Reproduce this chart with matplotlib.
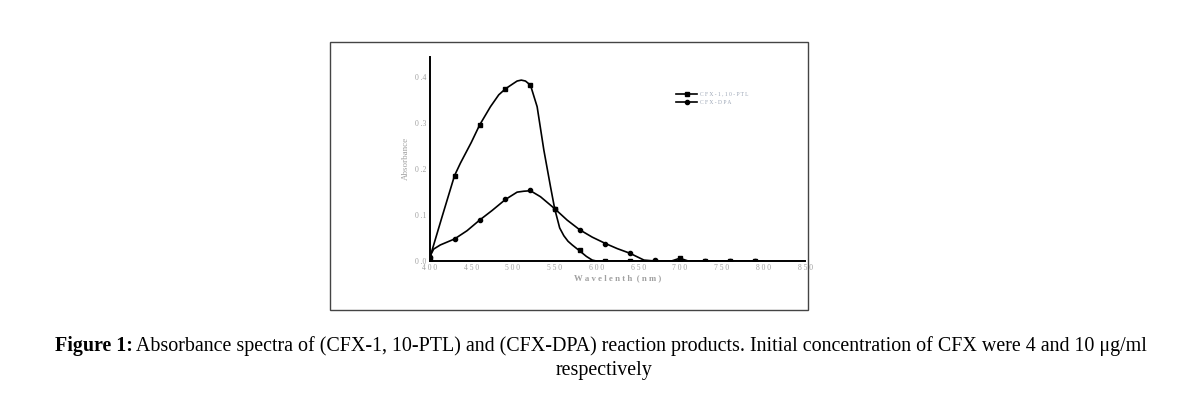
import matplotlib
matplotlib.use("Agg")
import matplotlib.pyplot as plt
from matplotlib.patches import Rectangle

# marker readings (every 30 nm)
wl = [400, 430, 460, 490, 520, 550, 580, 610, 640, 670, 700, 730, 760, 790]
ptl = [0.005, 0.186, 0.296, 0.375, 0.383, 0.114, 0.023, 0, 0, 0, 0.006, 0, 0, 0]
dpa = [0.008, 0.048, 0.089, 0.134, 0.154, 0.114, 0.068, 0.038, 0.017, 0.002, 0, 0, 0, 0]

# smoothed curve traces
ptl_line_x = [400, 405, 415, 430, 437, 450, 460, 473, 483, 491, 500, 505, 510, 515, 521,
              529, 537, 545, 550, 556, 561, 566, 571, 580, 588, 595, 600, 690, 700, 710, 800]
ptl_line_y = [0.005, 0.035, 0.096, 0.186, 0.213, 0.258, 0.296, 0.336, 0.362, 0.375, 0.386,
              0.392, 0.394, 0.392, 0.383, 0.336, 0.242, 0.162, 0.114, 0.072, 0.055, 0.043,
              0.035, 0.022, 0.010, 0.002, 0, 0, 0.006, 0, 0]
dpa_line_x = [400, 405, 413, 430, 445, 460, 475, 491, 505, 513, 521, 533, 550, 565, 580,
              595, 611, 625, 640, 657, 670, 800]
dpa_line_y = [0.008, 0.026, 0.035, 0.048, 0.066, 0.089, 0.110, 0.134, 0.150, 0.152, 0.153,
              0.140, 0.114, 0.089, 0.068, 0.052, 0.038, 0.027, 0.017, 0.002, 0, 0]

xticks = [400, 450, 500, 550, 600, 650, 700, 750, 800, 850]
yticks = [0.0, 0.1, 0.2, 0.3, 0.4]

def spaced(s): return " ".join(s)

GRAY = "#a0a0a0"
SERIF = ["Liberation Serif", "DejaVu Serif"]

fig = plt.figure(figsize=(12.01, 3.94), dpi=100)
fig.patch.set_facecolor("white")

# outer frame around the graphic
fig.patches.append(Rectangle((330/1201, 1-310/394), 478/1201, 268/394, transform=fig.transFigure,
                             fill=False, edgecolor="#444", lw=1.0))

ax = fig.add_axes([429.5/1201, 1-261/394, 375.5/1201, 204.3/394])
ax.plot(ptl_line_x, ptl_line_y, color="black", lw=1.2, zorder=3)
ax.plot(dpa_line_x, dpa_line_y, color="black", lw=1.2, zorder=3)
ax.plot(wl, ptl, ls="none", marker="s", ms=3.4, color="black", zorder=4)
ax.plot(wl, dpa, ls="none", marker="o", ms=3.0, color="black", zorder=4)

ax.set_xlim(400, 850)
ax.set_ylim(0, 0.445)
for s in ["top", "right"]:
    ax.spines[s].set_visible(False)
for s in ["left", "bottom"]:
    ax.spines[s].set_linewidth(1.4)
ax.set_xticks(xticks)
ax.set_xticklabels([spaced(str(t)) for t in xticks], fontsize=5.5, color=GRAY, family=SERIF)
ax.set_yticks(yticks)
ax.set_yticklabels(["0 .%d" % round(t*10) for t in yticks],
                   fontsize=5.5, color=GRAY, family=SERIF)
ax.tick_params(length=0, pad=2)
ax.set_xlabel(spaced("Wavelenth") + "  ( n m )", fontsize=6.3, color=GRAY, family=SERIF,
              fontweight="bold", labelpad=2)
ax.set_ylabel("Absorbance", fontsize=6.5, color=GRAY, family=SERIF, labelpad=4)

# legend drawn by hand to match the tiny original
lx0, lx1 = 676, 697
for yy, mk, lab in [(94, "s", "CFX-1,10-PTL"), (102, "o", "CFX-DPA")]:
    fy = 1 - yy/394
    fig.add_artist(plt.Line2D([lx0/1201, lx1/1201], [fy, fy], color="black", lw=1.2,
                              transform=fig.transFigure))
    fig.add_artist(plt.Line2D([(lx0+lx1)/2/1201], [fy], color="black", marker=mk, ms=3.0,
                              transform=fig.transFigure))
    fig.text(700/1201, fy, spaced(lab), fontsize=4, color="#9aa4b4", va="center", ha="left",
             family=SERIF)

# caption
cap_b = "Figure 1:"
cap_r = (" Absorbance spectra of (CFX-1, 10-PTL) and (CFX-DPA) reaction products. "
         "Initial concentration of CFX were 4 and 10 μg/ml")
fs = 14.4
t1 = fig.text(0, 1-346/394, cap_b, fontsize=fs, fontweight="bold", family=SERIF, va="center")
t2 = fig.text(0, 1-346/394, cap_r, fontsize=fs, family=SERIF, va="center")
fig.canvas.draw()
r = fig.canvas.get_renderer()
w1 = t1.get_window_extent(r).width
w2 = t2.get_window_extent(r).width
x0 = 601 - (w1 + w2)/2
t1.set_x(x0/1201)
t2.set_x((x0 + w1)/1201)
fig.text(604/1201, 1-371/394, "respectively", fontsize=fs, family=SERIF, ha="center", va="center")

fig.savefig("out.png", dpi=100, facecolor="white")
